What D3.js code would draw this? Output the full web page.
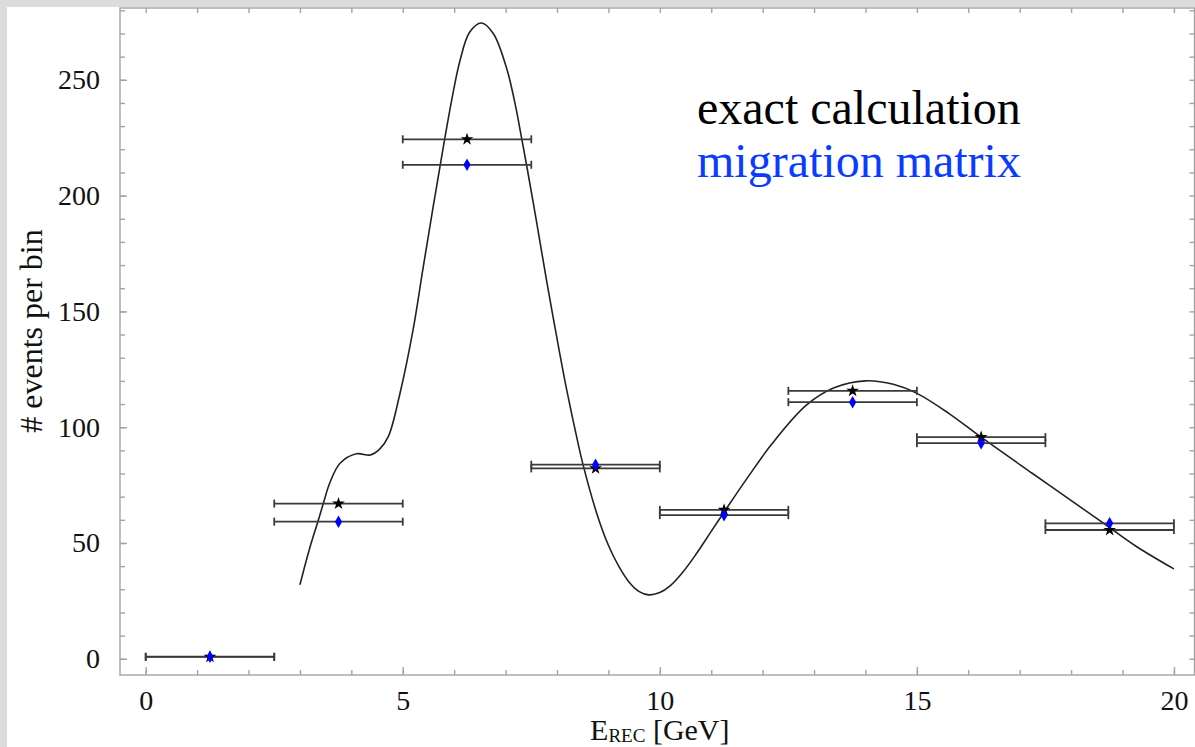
<!DOCTYPE html>
<html>
<head>
<meta charset="utf-8">
<script src="https://cdnjs.cloudflare.com/ajax/libs/d3/7.8.5/d3.min.js"></script>
<style>
    body { margin: 0; background: #dcdcdc; }
    #chart { width: 1195px; height: 747px; }
    .axis path, .axis line { stroke: #a3a3a3; stroke-width: 1.4; }
    .axis text { font-family: "Liberation Serif", "Times New Roman", serif; font-size: 28px; fill: #111; }
</style>
</head>
<body>
<div id="chart"></div>
<script>
// bins in E_REC [GeV]
const binLow  = [0, 2.5, 5, 7.5, 10, 12.5, 15, 17.5];
const binHigh = [2.5, 5, 7.5, 10, 12.5, 15, 17.5, 20];

// events per bin
const exactCalc  = [0.8, 67.0, 224.3, 82.2, 64.3, 115.7, 95.7, 55.6];
const migration  = [0.9, 59.2, 213.3, 83.8, 62.0, 110.8, 93.1, 58.5];

// smooth spectrum
const curveX = [3.0, 3.18, 3.35, 3.45, 3.58, 3.78, 4.1, 4.37, 4.55, 4.72, 4.94, 5.2, 5.39, 5.59, 5.72, 5.82,
    5.95, 6.11, 6.3, 6.53, 6.76, 7.02, 7.2, 7.31, 7.41, 7.6, 7.8, 7.99, 8.19, 8.41, 8.51, 8.77, 9.0, 9.2, 9.4, 9.6, 9.78,
    10.0, 10.2, 10.45, 10.7, 11.0, 11.3, 11.7, 12.17, 12.85, 13.39, 14.0, 14.54, 15.01, 15.62, 16.23, 17.25, 18.26, 18.74, 19.27, 20.0];
const curveY = [32, 47, 59.3, 66.7, 75.9, 84.4, 88.5, 88, 90.5, 96, 114, 142, 168, 195, 212, 225,
    241, 258, 270.5, 274.5, 270, 255, 238, 225, 213, 189, 163, 139.5, 116, 93, 83.5, 63, 49, 40, 33.2, 29, 27.6,
    28.6, 31.5, 37.5, 45, 55, 65, 78, 92.5, 109.5, 117, 120, 118.5, 114.5, 106, 96, 80, 64.3, 56.8, 48.5, 38.8];

const xMajor = [0, 5, 10, 15, 20];
const yMajor = [0, 50, 100, 150, 200, 250];
const legendLabels = ["exact calculation", "migration matrix"];

const svg = d3.select("#chart").append("svg")
    .attr("width", 1195)
    .attr("height", 747);

// white panel
svg.append("rect")
    .attr("x", 7).attr("y", 7)
    .attr("width", 1188).attr("height", 740)
    .attr("fill", "white");

const box = {left: 120, right: 1194.5, top: 8, bottom: 675};

const x = d3.scaleLinear().domain([-0.5, 20.4]).range([box.left, box.right]);
const y = d3.scaleLinear().domain([-7, 281]).range([box.bottom, box.top]);

const minorX = d3.range(0, 21, 1);
const minorY = d3.range(0, 281, 10);

// frame
svg.append("rect")
    .attr("x", box.left).attr("y", box.top)
    .attr("width", box.right - box.left).attr("height", box.bottom - box.top)
    .attr("fill", "none")
    .attr("stroke", "#a3a3a3")
    .attr("stroke-width", 1.4);

// minor ticks on all four sides
svg.append("g").attr("class", "axis").attr("transform", `translate(0,${box.bottom})`)
    .call(d3.axisBottom(x).tickValues(minorX).tickSize(-5).tickFormat(""));
svg.append("g").attr("class", "axis").attr("transform", `translate(0,${box.top})`)
    .call(d3.axisTop(x).tickValues(minorX).tickSize(-5).tickFormat(""));
svg.append("g").attr("class", "axis").attr("transform", `translate(${box.left},0)`)
    .call(d3.axisLeft(y).tickValues(minorY).tickSize(-5).tickFormat(""));
svg.append("g").attr("class", "axis").attr("transform", `translate(${box.right},0)`)
    .call(d3.axisRight(y).tickValues(minorY).tickSize(-5).tickFormat(""));

// major ticks with labels
svg.append("g").attr("class", "axis").attr("transform", `translate(0,${box.bottom})`)
    .call(d3.axisBottom(x).tickValues(xMajor).tickSize(-8).tickPadding(15).tickFormat(d3.format("d")));
svg.append("g").attr("class", "axis").attr("transform", `translate(${box.left},0)`)
    .call(d3.axisLeft(y).tickValues(yMajor).tickSize(-7).tickPadding(20).tickFormat(d3.format("d")));
svg.selectAll(".axis .domain").remove();

// axis titles
const xTitle = svg.append("text")
    .attr("x", x(10))
    .attr("y", 740)
    .attr("text-anchor", "middle")
    .attr("font-family", "Liberation Serif, serif")
    .attr("font-size", 30)
    .attr("fill", "#111");
xTitle.append("tspan").text("E");
xTitle.append("tspan").attr("font-size", 19).attr("dy", 2).text("REC");
xTitle.append("tspan").attr("dy", -2).text(" [GeV]");

svg.append("text")
    .attr("transform", "rotate(-90)")
    .attr("x", -331)
    .attr("y", 42)
    .attr("text-anchor", "middle")
    .attr("font-family", "Liberation Serif, serif")
    .attr("font-size", 32)
    .attr("fill", "#111")
    .text("# events per bin");

// curve
svg.append("path")
    .datum(curveX.map((d, i) => [d, curveY[i]]))
    .attr("fill", "none")
    .attr("stroke", "#222")
    .attr("stroke-width", 1.6)
    .attr("d", d3.line()
        .x(d => x(d[0]))
        .y(d => y(d[1]))
        .curve(d3.curveCatmullRom.alpha(0.5)));

// error bars
function drawBars(values, cls) {
    const g = svg.append("g").attr("class", cls)
        .attr("stroke", "#3a3a3a")
        .attr("stroke-width", 1.8);
    g.selectAll("line.h")
        .data(values)
        .enter()
        .append("line")
        .attr("class", "h")
        .attr("x1", (d, i) => x(binLow[i]))
        .attr("x2", (d, i) => x(binHigh[i]))
        .attr("y1", d => y(d))
        .attr("y2", d => y(d));
    g.selectAll("line.capL")
        .data(values)
        .enter()
        .append("line")
        .attr("class", "capL")
        .attr("x1", (d, i) => x(binLow[i]))
        .attr("x2", (d, i) => x(binLow[i]))
        .attr("y1", d => y(d) - 4)
        .attr("y2", d => y(d) + 4);
    g.selectAll("line.capR")
        .data(values)
        .enter()
        .append("line")
        .attr("class", "capR")
        .attr("x1", (d, i) => x(binHigh[i]))
        .attr("x2", (d, i) => x(binHigh[i]))
        .attr("y1", d => y(d) - 4)
        .attr("y2", d => y(d) + 4);
}
drawBars(exactCalc, "exact-bars");
drawBars(migration, "migration-bars");

// markers
svg.selectAll("path.star")
    .data(exactCalc)
    .enter()
    .append("path")
    .attr("class", "star")
    .attr("d", d3.symbol().type(d3.symbolStar).size(50))
    .attr("fill", "black")
    .attr("transform", (d, i) => `translate(${x((binLow[i] + binHigh[i]) / 2)},${y(d)})`);

svg.selectAll("path.diamond")
    .data(migration)
    .enter()
    .append("path")
    .attr("class", "diamond")
    .attr("d", d3.symbol().type(d3.symbolDiamond).size(45))
    .attr("fill", "#0000ff")
    .attr("transform", (d, i) => `translate(${x((binLow[i] + binHigh[i]) / 2)},${y(d)})`);

// legend
svg.selectAll("text.legend")
    .data(legendLabels)
    .enter()
    .append("text")
    .attr("class", "legend")
    .attr("x", 697)
    .attr("y", (d, i) => 124 + i * 53)
    .attr("font-family", "Liberation Serif, serif")
    .attr("font-size", 48)
    .attr("fill", (d, i) => i === 0 ? "#000" : "#0a3cff")
    .text(d => d);
</script>
</body>
</html>
